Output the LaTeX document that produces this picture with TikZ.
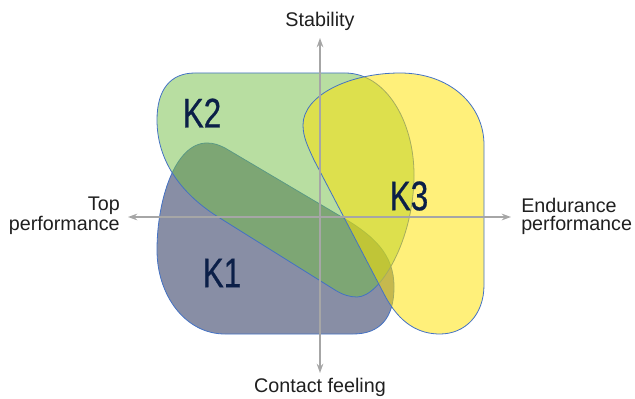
\documentclass[tikz,border=0pt]{standalone}
\usepackage{fontspec}
\setmainfont{Liberation Sans}
\newfontfamily\kfont[FakeStretch=0.76,FakeBold=0.6]{Liberation Sans}
\usepackage[HTML]{xcolor}
\usetikzlibrary{arrows.meta}
\definecolor{kone}{HTML}{888EA5}
\definecolor{ktwo}{HTML}{73BF46}
\definecolor{kthree}{HTML}{FFE200}
\definecolor{rim}{HTML}{4472C4}
\definecolor{axisgray}{HTML}{A6A6A6}
\definecolor{knavy}{HTML}{0B1F48}

\begin{document}
\begin{tikzpicture}[x=0.75pt, y=-0.75pt,
  blob/.style={draw=rim, line width=0.6pt},
  axis/.style={draw=axisgray, line width=1.1pt, {Stealth[length=7pt,width=5pt]}-{Stealth[length=7pt,width=5pt]}},
  klabel/.style={text=knavy, font=\kfont\fontsize{31}{31}\selectfont, inner sep=0pt},
  alabel/.style={text=black!88, font=\fontsize{14.8}{13.4}\selectfont, inner sep=0pt}]
\useasboundingbox (0,0) rectangle (635,399);
% clusters
\path[blob, fill=kone] (207,143) .. controls (214,143) and (219,145) .. (225,148)
  -- (340,216) .. controls (375,236) and (394,255) .. (394,287)
  .. controls (394,318) and (380,334) .. (353,334) -- (225,334)
  .. controls (185,334) and (157,295) .. (157,250)
  .. controls (157,200) and (175,143) .. (207,143) -- cycle;
\path[blob, fill=ktwo, fill opacity=0.51] (195,73) -- (345,73)
  .. controls (385,73) and (414,120) .. (414,175)
  .. controls (414,240) and (380,297) .. (357,297)
  .. controls (350,297) and (343,295) .. (335,290) -- (215,215)
  .. controls (180,192) and (157,160) .. (157,120)
  .. controls (157,90) and (170,73) .. (195,73) -- cycle;
\path[blob, fill=kthree, fill opacity=0.52] (303,125)
  .. controls (303,95) and (350,73) .. (400,73)
  .. controls (450,73) and (484,105) .. (484,145) -- (484,285)
  .. controls (484,315) and (465,334) .. (440,334)
  .. controls (420,334) and (400,325) .. (384,294) -- (314,160)
  .. controls (308,147) and (303,137) .. (303,125) -- cycle;
% axes
\coordinate (north) at (320,38);
\coordinate (south) at (320,373);
\coordinate (west) at (128,217);
\coordinate (east) at (511,217);
\draw[axis] (north) -- (south);
\draw[axis] (west) -- (east);
% labels
\node[klabel] (k1) at (222,273) {K1};
\node[klabel] (k2) at (202,113) {K2};
\node[klabel] (k3) at (409,196) {K3};
\node[alabel] (stab) at (320,21) {Stability};
\node[alabel] (cont) at (320,387) {Contact feeling};
\node[alabel, align=right, anchor=east] (top) at (120,216) {Top\\performance};
\node[alabel, align=left, anchor=west] (endu) at (521,216) {Endurance\\performance};
\end{tikzpicture}
\end{document}
